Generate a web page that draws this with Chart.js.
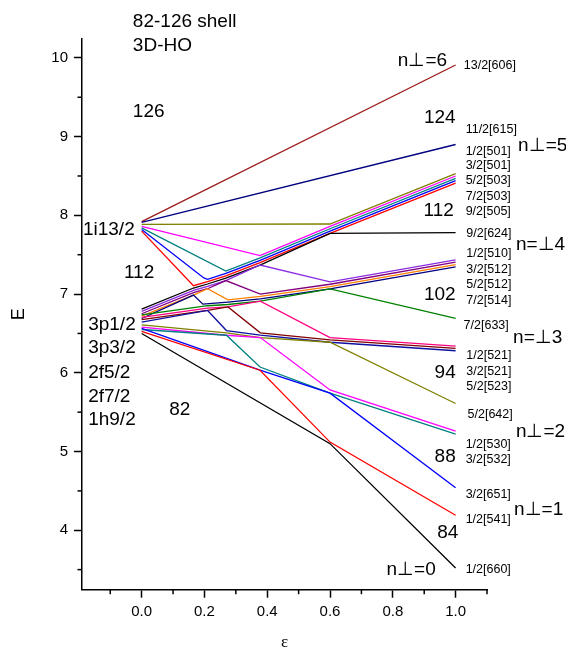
<!DOCTYPE html>
<html><head><meta charset="utf-8">
<script src="https://cdn.jsdelivr.net/npm/chart.js@4.4.1/dist/chart.umd.min.js"></script>
<style>html,body{margin:0;padding:0;background:#fff;}#wrap{width:566px;height:651px;}</style>
</head><body><div id="wrap"><canvas id="c" width="566" height="651"></canvas></div>
<script>
// ---- data: each level as [epsilon, E] points ----
// N=6 (1i13/2) levels
const i13_13 = [[0,7.92],[1,9.91]];
const i13_11 = [[0,7.91],[1,8.90]];
const i13_9  = [[0,7.885],[0.6,7.89],[1,8.53]];
const i13_7  = [[0,7.86],[0.377,7.489],[0.6,7.86],[1,8.50]];
const i13_5  = [[0,7.84],[0.268,7.292],[0.377,7.459],[0.6,7.83],[1,8.47]];
const i13_3  = [[0,7.82],[0.198,7.205],[0.21,7.188],[0.268,7.262],[0.377,7.429],[0.6,7.80],[1,8.44]];
const i13_1  = [[0,7.80],[0.165,7.107],[0.21,7.158],[0.268,7.232],[0.377,7.399],[0.6,7.77],[1,8.41]];
// N=5 levels starting in the nz=0 band
const n5_a9 = [[0,6.81],[0.165,7.077],[0.21,7.128],[0.268,7.202],[0.377,7.369],[0.6,7.77],[1,7.78]];
const n5_a7 = [[0,6.78],[0.165,7.047],[0.21,7.098],[0.268,7.172],[0.377,7.369],[0.6,7.155],[1,7.435]];
const n5_a5 = [[0,6.75],[0.165,7.017],[0.21,7.068],[0.268,7.172],[0.378,7.0],[0.6,7.125],[1,7.405]];
const n5_a3 = [[0,6.72],[0.165,6.987],[0.21,7.068],[0.275,6.9275],[0.378,6.97],[0.6,7.095],[1,7.375]];
const n5_a1 = [[0,6.69],[0.165,6.987],[0.195,6.8715],[0.275,6.8975],[0.378,6.94],[0.6,7.065],[1,7.345]];
// nz=1 band
const n5_b7 = [[0,6.735],[0.21,6.852],[0.275,6.8675],[0.378,6.91],[0.6,7.065],[1,6.69]];
const n5_b5 = [[0,6.705],[0.21,6.822],[0.275,6.8375],[0.378,6.91],[0.6,6.448],[1,6.34]];
const n5_b3 = [[0,6.675],[0.21,6.792],[0.275,6.8375],[0.378,6.508],[0.6,6.418],[1,6.31]];
const n5_b1 = [[0,6.645],[0.21,6.792],[0.27,6.537],[0.378,6.478],[0.6,6.388],[1,6.28]];
// nz=2 band
const n5_c5 = [[0,6.61],[0.27,6.507],[0.378,6.448],[0.6,6.388],[1,5.61]];
const n5_c3 = [[0,6.58],[0.27,6.477],[0.378,6.448],[0.6,5.782],[1,5.26]];
const n5_c1 = [[0,6.55],[0.27,6.477],[0.377,6.073],[0.6,5.742],[1,5.22]];
// nz=3 and nz=4 bands
const n5_d3 = [[0,6.565],[0.377,6.033],[0.6,5.742],[1,4.54]];
const n5_d1 = [[0,6.525],[0.377,6.033],[0.6,5.12],[1,4.19]];
const n5_e1 = [[0,6.50],[0.6,5.10],[1,3.52]];

// axis ticks
const xTicks = [0,0.2,0.4,0.6,0.8,1.0];
const xMinor = [-0.1,0.1,0.3,0.5,0.7,0.9,1.1];
const yTicks = [4,5,6,7,8,9,10];
const yMinor = [3.5,4.5,5.5,6.5,7.5,8.5,9.5];

// text labels [text, epsilon, E]
const headLabels = [['82-126 shell',-0.028,10.465],['3D-HO',-0.028,10.16]];
const magicLabels = [['126',-0.028,9.32],['124',0.899,9.245],['112',0.898,8.063],['102',0.899,6.991],
  ['94',0.933,5.996],['88',0.933,4.936],['84',0.9416,3.962],['112',-0.0565,7.267],['82',0.088,5.53]];
const nperpLabels = [['n⊥=6',0.816,9.966],['n⊥=5',1.199,8.889],['n=⊥4',1.192,7.627],['n=⊥3',1.183,6.441],
  ['n⊥=2',1.192,5.253],['n⊥=1',1.186,4.258],['n⊥=0',0.78,3.496]];
const sphericalLabels = [['1i13/2',-0.187,7.817],['3p1/2',-0.1704,6.61],['3p3/2',-0.1704,6.314],
  ['2f5/2',-0.1704,5.996],['2f7/2',-0.1704,5.698],['1h9/2',-0.1704,5.402]];
const orbitLabels = [['13/2[606]',1.026,9.902],['11/2[615]',1.032,9.089],['1/2[501]',1.032,8.813],
  ['3/2[501]',1.032,8.635],['5/2[503]',1.032,8.44],['7/2[503]',1.032,8.241],['9/2[505]',1.032,8.05],
  ['9/2[624]',1.034,7.767],['1/2[510]',1.034,7.509],['3/2[512]',1.034,7.309],['5/2[512]',1.034,7.118],
  ['7/2[514]',1.034,6.915],['7/2[633]',1.0255,6.597],['1/2[521]',1.034,6.216],['3/2[521]',1.034,6.016],
  ['5/2[523]',1.034,5.826],['5/2[642]',1.038,5.475],['1/2[530]',1.032,5.085],['3/2[532]',1.032,4.894],
  ['3/2[651]',1.032,4.449],['1/2[541]',1.032,4.131],['1/2[660]',1.032,3.496]];

// ---- styles ----
const series = [
  [n5_e1,'#000000'],[n5_d1,'#FF0000'],[n5_d3,'#0000FF'],
  [n5_c1,'#008080'],[n5_c3,'#FF00FF'],[n5_c5,'#808000'],
  [n5_b1,'#1010A0'],[n5_b3,'#800000'],[n5_b5,'#FF0080'],[n5_b7,'#008000'],
  [n5_a1,'#000080'],[n5_a3,'#FF8000'],[n5_a5,'#800080'],[n5_a7,'#8A2BE2'],[n5_a9,'#000000'],
  [i13_1,'#FF0000'],[i13_3,'#0000FF'],[i13_5,'#008080'],[i13_7,'#FF00FF'],[i13_9,'#808000'],
  [i13_11,'#000080'],[i13_13,'#9B1B1B']
];
const SANS = '"Liberation Sans", Arial, sans-serif';

const datasets = series.map(([pts,color]) => ({
  data: pts.map(([x,y]) => ({x,y})),
  borderColor: color, borderWidth: 1.3, showLine: true,
  pointRadius: 0, fill: false, tension: 0
}));

const minorTickPlugin = {
  id:'minorTicks',
  afterDraw(chart){
    const {ctx, scales:{x,y}, chartArea:a} = chart;
    ctx.save(); ctx.strokeStyle='#000'; ctx.lineWidth=1.5;
    xMinor.forEach(v=>{const p=x.getPixelForValue(v);ctx.beginPath();ctx.moveTo(p,a.bottom);ctx.lineTo(p,a.bottom+4.5);ctx.stroke();});
    yMinor.forEach(v=>{const p=y.getPixelForValue(v);ctx.beginPath();ctx.moveTo(a.left,p);ctx.lineTo(a.left-4.5,p);ctx.stroke();});
    ctx.restore();
  }
};
const textPlugin = {
  id:'texts',
  afterDatasetsDraw(chart){
    const {ctx, scales:{x,y}} = chart;
    ctx.save(); ctx.fillStyle='#000'; ctx.textAlign='left'; ctx.textBaseline='middle';
    const draw=(list,size)=>{ctx.font=size+'px '+SANS;
      list.forEach(([t,e,E])=>ctx.fillText(t,x.getPixelForValue(e),y.getPixelForValue(E)));};
    draw(headLabels,19); draw(magicLabels,19); draw(nperpLabels,19); draw(sphericalLabels,19);
    draw(orbitLabels,12.5);
    ctx.restore();
  }
};

new Chart(document.getElementById('c'), {
  type:'scatter',
  data:{datasets},
  options:{
    responsive:false, animation:false, devicePixelRatio:1,
    layout:{padding:{left:0,right:79,top:39,bottom:0}},
    plugins:{legend:{display:false}, tooltip:{enabled:false}},
    scales:{
      x:{type:'linear', min:-0.19, max:1.1,
        afterBuildTicks:s=>{s.ticks=xTicks.map(v=>({value:v}));},
        afterFit:s=>{s.height=61.3;},
        ticks:{callback:v=>Number(v).toFixed(1), color:'#000', font:{family:SANS,size:15}, padding:5, maxRotation:0, autoSkip:false},
        grid:{drawOnChartArea:false, tickLength:8, tickColor:'#000', tickWidth:1.5},
        border:{color:'#000', width:1.5},
        title:{display:true, text:'ε', color:'#000', font:{family:'"Liberation Serif", serif', size:17, lineHeight:1}, padding:0}
      },
      y:{type:'linear', min:3.245, max:10.24,
        afterBuildTicks:s=>{s.ticks=yTicks.map(v=>({value:v}));},
        afterFit:s=>{s.width=82;},
        ticks:{callback:v=>String(v), color:'#000', font:{family:SANS,size:15}, padding:6, autoSkip:false},
        grid:{drawOnChartArea:false, tickLength:8, tickColor:'#000', tickWidth:1.5},
        border:{color:'#000', width:1.5},
        title:{display:true, text:'E', color:'#000', font:{family:SANS,size:18}, padding:{top:8,bottom:0}}
      }
    }
  },
  plugins:[minorTickPlugin,textPlugin]
});
</script></body></html>
